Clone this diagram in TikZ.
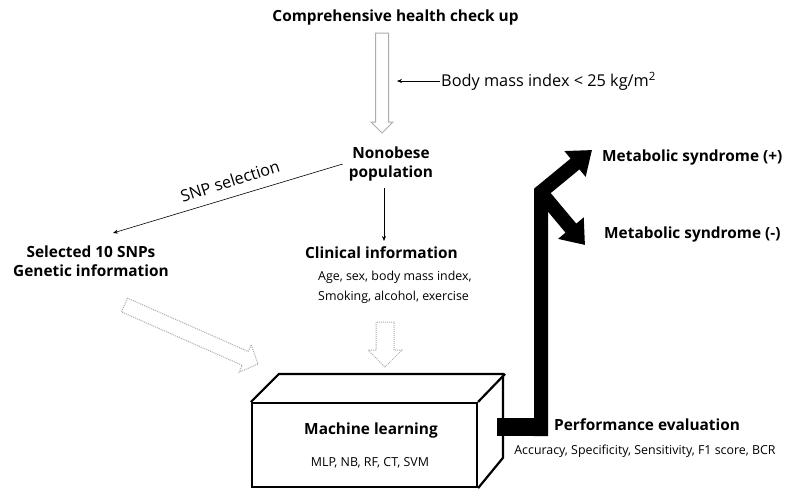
\documentclass[tikz,border=0pt]{standalone}
\usepackage{fontspec}
\setmainfont{Open Sans}
\usetikzlibrary{arrows.meta}
\begin{document}
\begin{tikzpicture}[x=1pt, y=-1pt, >={Stealth[length=5pt, width=4pt]},
    titletext/.style={font=\fontsize{15.4}{19}\selectfont\bfseries, inner sep=1pt, align=center},
    bigtext/.style={font=\fontsize{16.3}{18}\selectfont, inner sep=1pt},
    smalltext/.style={font=\fontsize{12.4}{20}\selectfont, inner sep=1pt},
    hollow/.style={draw=gray!65, line width=1pt, fill=white, line join=miter},
    hollowdot/.style={hollow, densely dotted},
    boxline/.style={line width=2.2pt, line join=miter},
    fatline/.style={line width=14pt, line join=miter}]
    % 0. 画布
    \useasboundingbox (0,0) rectangle (797,499);

    % 1. 空心箭头（最底层）
    \draw[hollow] (375.5,33) -- (375.5,122) -- (371,122) -- (382,133) -- (393,122) -- (388.5,122) -- (388.5,33) -- cycle;
    \draw[hollowdot] (376,322) -- (376,350) -- (368,350) -- (385,367) -- (402,350) -- (394,350) -- (394,322) -- cycle;
    \draw[hollowdot] (127.5,298.1) -- (248.2,351.5) -- (251.2,344.7) -- (258,364) -- (239.2,372.1) -- (242.2,365.3) -- (121.5,311.9) -- cycle;

    % 2. 文字节点
    \node[titletext] (check) at (395.5,17) {Comprehensive health check up};
    \node[bigtext, anchor=west] (bmi) at (440,81) {Body mass index < 25 kg/m\textsuperscript{2}};
    \node[titletext] (pop) at (391,164) {Nonobese\\population};
    \node[titletext] (snp) at (91,261.5) {Selected 10 SNPs\\Genetic information};
    \node[titletext] (clin) at (381.5,253) {Clinical information};
    \node[smalltext, anchor=west, align=left] (factors) at (317,287) {Age, sex, body mass index,\\Smoking, alcohol, exercise};
    \node[bigtext, rotate=18] (snplabel) at (230,181) {SNP selection};

    % 3. 立方体
    \node[draw, boxline, minimum width=225, minimum height=84, fill=white] (ml) at (364.5,445) {};
    \draw[boxline] (ml.north west) -- ++(28,-28) -- ++(224,0) -- ++(0,84) -- (ml.south east);
    \draw[boxline] (ml.north east) -- ++(27,-28);
    \node[titletext] (mltitle) at (371,430) {Machine learning};
    \node[smalltext] (mlalgo) at (370,463) {MLP, NB, RF, CT, SVM};

    % 4. 评价与结果
    \node[titletext, anchor=west] (perf) at (553,425) {Performance evaluation};
    \node[smalltext] (metrics) at (645,451) {Accuracy, Specificity, Sensitivity, F1 score, BCR};
    \node[titletext, anchor=west] (metplus) at (601,157) {Metabolic syndrome (+)};
    \node[titletext, anchor=west] (metminus) at (603,234) {Metabolic syndrome (-)};

    % 5. 细箭头
    \coordinate (bmiend) at (397,81);
    \coordinate (snpend) at (113,233);
    \coordinate (popout) at (384,188);
    \coordinate (clinin) at (384,241);
    \draw[->, line width=0.6pt] (bmi.west) -- (bmiend);
    \draw[->, line width=0.6pt] ([xshift=-5pt]pop.west) -- (snpend);
    \draw[->, line width=0.6pt] (popout) -- (clinin);

    % 6. 粗黑箭头（最高层）
    \coordinate (fork) at (541,192);
    \coordinate (plustip) at (592,150);
    \coordinate (minustip) at (585,245);
    \fill (497,418) rectangle (548,436);
    \draw[fatline, -{Triangle[width=32pt, length=22pt]}] (541,436) -- (fork) -- (plustip);
    \draw[fatline, -{Triangle[width=32pt, length=22pt]}] (544,196) -- (minustip);
\end{tikzpicture}
\end{document}
